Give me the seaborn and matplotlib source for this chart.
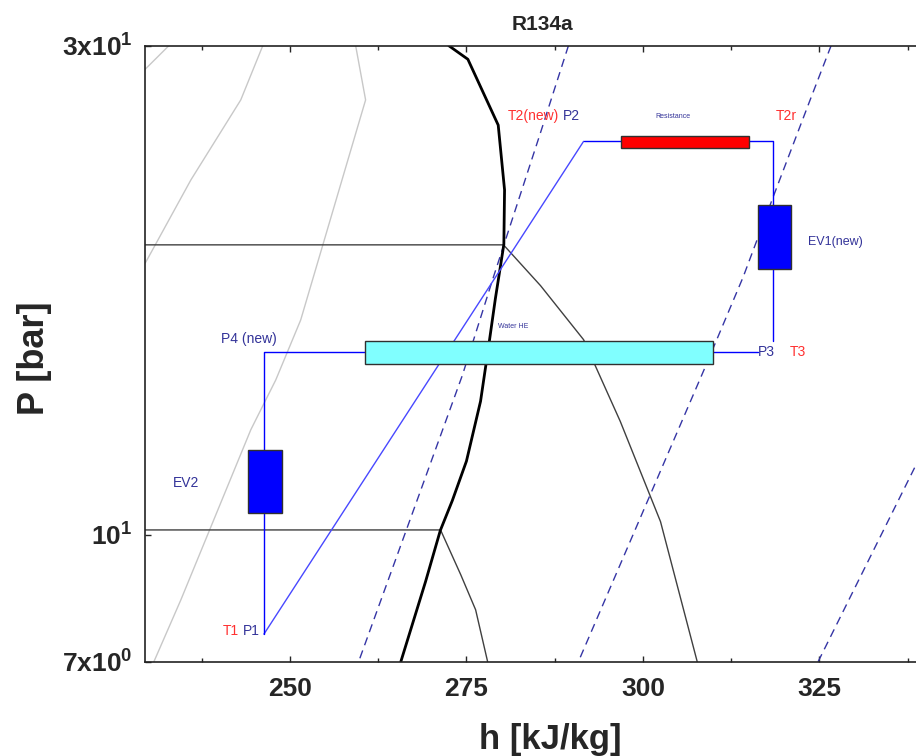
import numpy as np
import pandas as pd
import matplotlib
matplotlib.use("Agg")
import matplotlib.pyplot as plt
from matplotlib.patches import Rectangle
import seaborn as sns

### Curves of the P-h diagram (h in kJ/kg, P in bar)
sat_h = [272.5, 275.2, 279.5, 280.4, 280.3, 279.1, 278.1, 277.0, 275.0, 273.0, 271.3, 269.2, 265.7]
sat_p = [30.0, 29.1, 25.1, 21.7, 19.2, 17.0, 15.2, 13.5, 11.8, 10.8, 10.1, 9.0, 7.52]

iso_hi_h = [225.0, 280.25, 285.5, 291.6, 296.8, 302.5, 307.7]
iso_hi_p = [19.18, 19.18, 17.5, 15.5, 12.9, 10.3, 7.52]
iso_lo_h = [225.0, 271.33, 274.2, 276.3, 278.0]
iso_lo_p = [10.11, 10.11, 9.14, 8.45, 7.52]

grey1_h = [232.83, 228.0]
grey1_p = [30.0, 27.8]
grey2_h = [246.14, 243.02, 235.95, 229.58, 228.0]
grey2_p = [30.0, 26.56, 22.19, 18.46, 17.9]
grey3_h = [259.30, 260.71, 251.51, 247.98, 244.44, 234.53, 230.71]
grey3_p = [30.0, 26.56, 16.20, 14.16, 12.66, 8.64, 7.52]

isen_a_h = [289.45, 285.48, 278.83, 274.44, 259.72]
isen_a_p = [30.0, 24.66, 17.85, 14.32, 7.52]
isen_b_h = [326.67, 323.70, 318.46, 314.22, 308.84, 290.86]
isen_b_p = [30.0, 26.56, 21.36, 17.85, 14.58, 7.52]
isen_c_h = [324.83, 338.70, 342.0]
isen_c_p = [7.52, 11.70, 12.9]

### Cycle
p1 = (246.3, 8.0)
p2 = (291.6, 24.2)
t2r = (318.4, 24.2)
p3 = (318.4, 15.07)
p4 = (246.3, 15.07)

# components
comp_h0 = [296.9, 316.3, 260.6, 244.1]
comp_h1 = [315.1, 321.0, 310.0, 248.8]
comp_p0 = [23.82, 18.16, 14.68, 10.50]
comp_p1 = [24.51, 20.98, 15.47, 12.10]
comp_col = ["#ff0000", "#0000ff", "#80ffff", "#0000ff"]

# annotations: text, h, P, colour key, size
lab_text = ["T2(new)", "P2", "Resistance", "T2r", "EV1(new)", "Water HE",
            "P4 (new)", "P3", "T3", "EV2", "T1", "P1"]
lab_h = [284.5, 289.9, 304.2, 320.3, 323.4, 281.6, 244.2, 316.3, 320.8, 235.2, 241.6, 244.5]
lab_p = [25.6, 25.6, 25.6, 25.6, 19.3, 15.96, 15.53, 15.07, 15.07, 11.24, 8.05, 8.05]
lab_col = ["r", "b", "b", "r", "b", "b", "b", "b", "r", "b", "r", "b"]
lab_size = [10, 10, 5, 10, 9, 5, 10, 10, 10, 10, 10, 10]
lab_ha = ["center", "center", "center", "center", "left", "center",
          "center", "left", "left", "center", "center", "center"]

xlim = (229.45, 339.0)
ylim = (7.52, 30.0)

sns.set_style("ticks")
plt.rcParams['font.family'] = ['Liberation Sans', 'DejaVu Sans']
plt.rcParams['mathtext.fontset'] = 'custom'
plt.rcParams['mathtext.rm'] = 'Liberation Sans'
plt.rcParams['mathtext.bf'] = 'Liberation Sans:bold'

fig = plt.figure(figsize=(9.16, 7.56), dpi=100)
ax = fig.add_axes([145/916, 1-661.7/756, (918.1-145)/916, 616/756])
ax.set_yscale('log')

def line(h, p, **kw):
    sns.lineplot(x=h, y=p, sort=False, estimator=None, ax=ax, **kw)

line(grey1_h, grey1_p, color="#c8c8c8", lw=1)
line(grey2_h, grey2_p, color="#c8c8c8", lw=1)
line(grey3_h, grey3_p, color="#c8c8c8", lw=1)
line(iso_hi_h, iso_hi_p, color="#404040", lw=1)
line(iso_lo_h, iso_lo_p, color="#404040", lw=1)
for hh, pp in [(isen_a_h, isen_a_p), (isen_b_h, isen_b_p), (isen_c_h, isen_c_p)]:
    line(hh, pp, color="#3535a5", lw=1, linestyle=(0, (6, 4)))
line(sat_h, sat_p, color="black", lw=2)

# process lines
line([p1[0], p2[0]], [p1[1], p2[1]], color="#4848ff", lw=1)
line([p2[0], t2r[0], t2r[0]], [p2[1], t2r[1], 15.45], color="#0000ff", lw=1)
line([316.3, p4[0], p1[0]], [p3[1], p4[1], p1[1]], color="#0000ff", lw=1)

for h0, h1, q0, q1, c in zip(comp_h0, comp_h1, comp_p0, comp_p1, comp_col):
    ax.add_patch(Rectangle((h0, q0), h1 - h0, q1 - q0, facecolor=c,
                           edgecolor="#303030", lw=1, zorder=5))

colours = {"r": "#ff3030", "b": "#333399"}
for t, h, p, c, s, ha in zip(lab_text, lab_h, lab_p, lab_col, lab_size, lab_ha):
    ax.text(h, p, t, color=colours[c], fontsize=s, ha=ha, va='center')

ax.set_xlim(*xlim)
ax.set_ylim(*ylim)
ax.set_xticks([250, 275, 300, 325])
ax.set_xticklabels(["250", "275", "300", "325"])
ax.set_xticks([237.5, 262.5, 287.5, 312.5, 337.5], minor=True)
ax.set_yticks([ylim[0], 10, 30])
ax.set_yticklabels([r'$\mathbf{7x10^{0}}$', r'$\mathbf{10^{1}}$', r'$\mathbf{3x10^{1}}$'])
ax.yaxis.set_minor_locator(matplotlib.ticker.NullLocator())
ax.tick_params(axis='x', which='major', direction='in', length=4, width=1, top=True,
               labelsize=19, pad=11)
ax.tick_params(axis='x', which='minor', direction='in', length=3, width=1, top=True)
ax.tick_params(axis='y', which='major', direction='in', length=4, width=1, labelsize=19, pad=9)
for lab in ax.get_xticklabels():
    lab.set_fontweight('bold')
for side in ['left', 'bottom', 'top']:
    ax.spines[side].set_color('#222222')
    ax.spines[side].set_linewidth(1.2)
ax.spines['right'].set_visible(False)
ax.set_xlabel('')
ax.set_ylabel('')

fig.text(542.5/916, 1-25/756, "R134a", fontsize=15, fontweight='bold', ha='center', va='center')
fig.text(550/916, 1-740/756, "h [kJ/kg]", fontsize=25, fontweight='bold', ha='center', va='center')
fig.text(35/916, 1-358/756, "P [bar]", fontsize=26, fontweight='bold', ha='center', va='center',
         rotation=90)

fig.savefig("out.png", dpi=100)
